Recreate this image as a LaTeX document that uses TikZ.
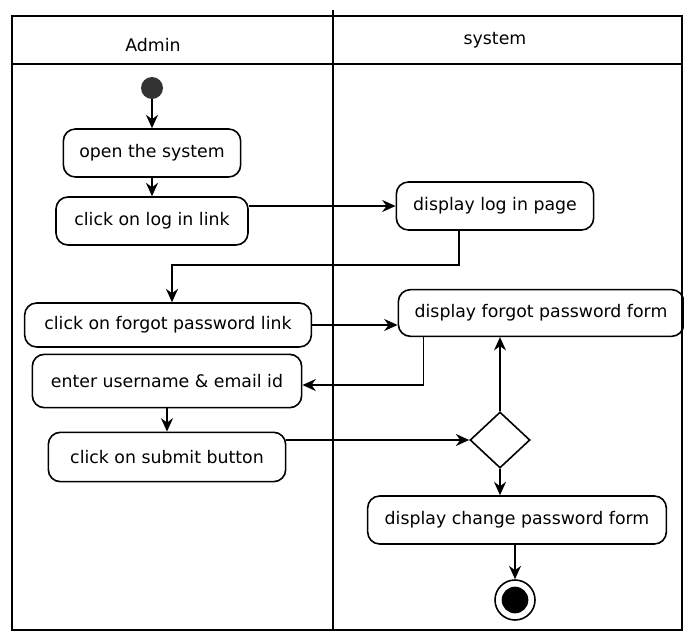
\documentclass[tikz,border=0pt]{standalone}
\usepackage{fontspec}
\setmainfont{DejaVu Sans}
\usetikzlibrary{arrows.meta,shapes.geometric,calc}
\begin{document}
\begin{tikzpicture}[x=0.75pt,y=-0.75pt,
  act/.style={draw,rounded corners=9pt,line width=1.2pt,font=\fontsize{13}{15}\selectfont,inner sep=0pt,minimum height=36pt,align=center},
  flow/.style={line width=1.2pt,-{Stealth[length=10pt,width=9pt]}},
  frame/.style={line width=1.3pt},
  lane/.style={font=\fontsize{13}{15}\selectfont}]
\useasboundingbox (0,0) rectangle (684,634);
% swimlane frame
\draw[frame] (12,16) rectangle (682,630);
\draw[frame] (12,64) -- (682,64);
\draw[frame] (333,10) -- (333,630);
\node[lane] (hadmin) at (153,45) {Admin};
\node[lane] (hsys) at (495,40) {system};
% nodes
\node[circle,fill=black!80,minimum size=16.5pt,inner sep=0pt] (start) at (152,88) {};
\node[act,minimum width=133pt] (open) at (152,153) {open the system};
\node[act,minimum width=144pt] (login) at (152,221) {click on log in link};
\node[act,minimum width=148pt] (dlogin) at (495,206) {display log in page};
\node[act,minimum width=215pt,minimum height=33pt] (forgot) at (168,325) {click on forgot password link};
\node[act,minimum width=214pt,minimum height=35pt] (dforgot) at (541,313) {display forgot password form};
\node[act,minimum width=202pt,minimum height=40pt] (enter) at (167,381) {enter username \& email id};
\node[act,minimum width=178pt,minimum height=37pt] (submit) at (167,457) {click on submit button};
\node[diamond,draw,line width=1.2pt,minimum width=45pt,minimum height=42pt,inner sep=0pt] (dia) at (500,440) {};
\node[act,minimum width=224pt] (dchange) at (517,520) {display change password form};
\node[circle,draw,line width=1.2pt,minimum size=30pt,inner sep=0pt] (end) at (515,600) {};
\node[circle,fill=black,minimum size=20pt,inner sep=0pt] (endin) at (515,600) {};
% connectors
\draw[flow] (start) -- (open);
\draw[flow] (open) -- (login);
\draw[flow] (dlogin.west -| login.east) -- (dlogin.west);
\draw[flow] ([xshift=-27pt]dlogin.south) |- ++(0,34) -| ([xshift=3pt]forgot.north);
\draw[flow] (forgot.east) -- (forgot.east -| dforgot.west);
\draw[flow] ([xshift=-88pt]dforgot.south) |- ([yshift=-3pt]enter.east);
\draw[flow] (enter) -- (submit);
\draw[flow] (dia.west -| submit.east) -- (dia.west);
\draw[flow] (dia.north) -- (dia.north |- dforgot.south);
\draw[flow] (dia.south) -- (dia.south |- dchange.north);
\draw[flow] (dchange.south -| end) -- (end);
\end{tikzpicture}
\end{document}
